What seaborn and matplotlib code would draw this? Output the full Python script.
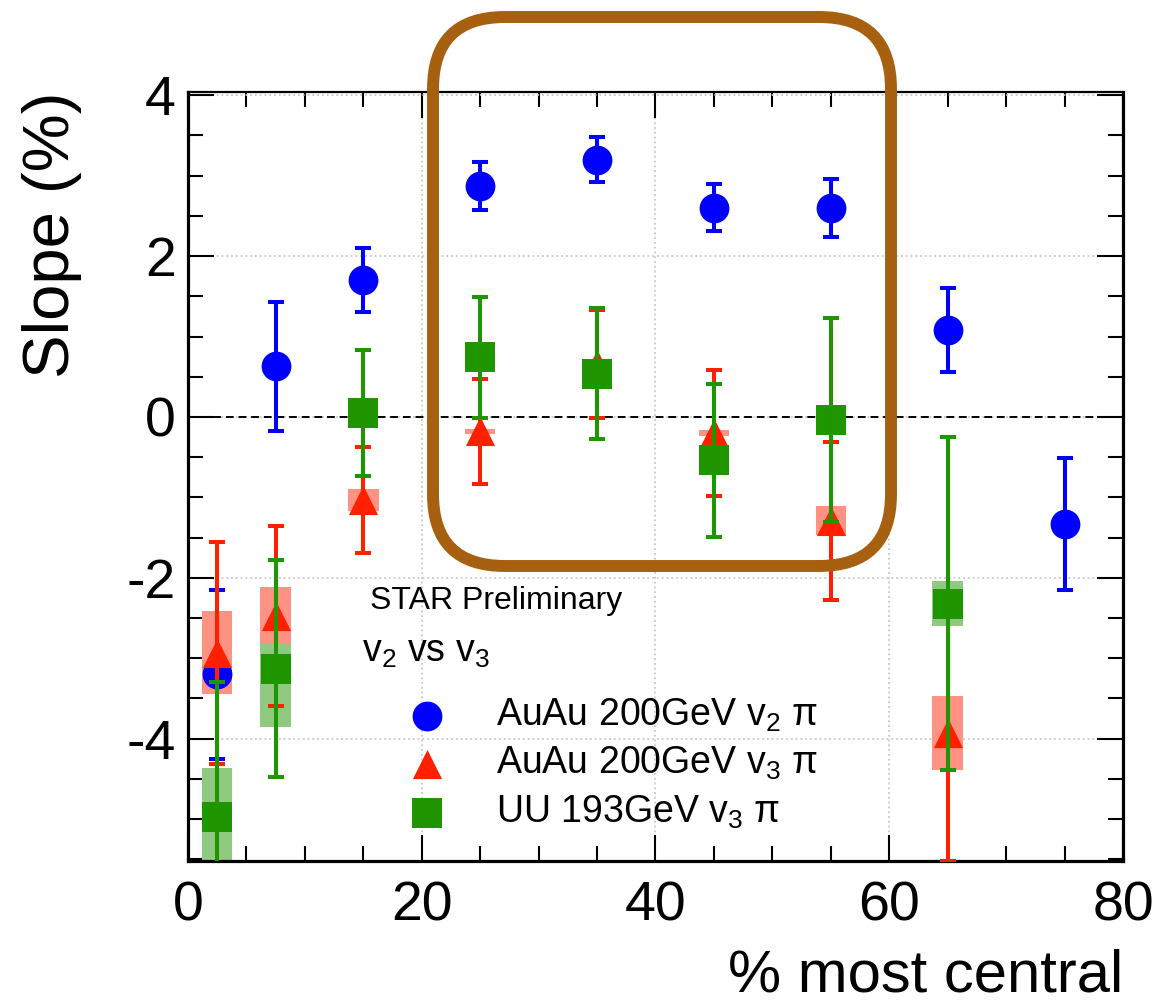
import matplotlib
matplotlib.use("Agg")
import matplotlib.pyplot as plt
import numpy as np
import pandas as pd
import seaborn as sns
from matplotlib.patches import FancyBboxPatch
from matplotlib.ticker import MultipleLocator

# Centrality bins (% most central) and fitted slopes (%), with stat. and sys. errors
cent_v2 = [2.5, 7.5, 15, 25, 35, 45, 55, 65, 75]
slope_v2 = [-3.20, 0.63, 1.70, 2.87, 3.20, 2.60, 2.60, 1.08, -1.33]
stat_v2 = [1.05, 0.80, 0.40, 0.30, 0.28, 0.29, 0.36, 0.52, 0.82]

cent_v3 = [2.5, 7.5, 15, 25, 35, 45, 55, 65]
slope_v3 = [-2.93, -2.47, -1.03, -0.18, 0.66, -0.20, -1.29, -3.93]
stat_v3 = [1.38, 1.12, 0.66, 0.65, 0.67, 0.78, 0.98, 1.59]
sys_v3 = [0.52, 0.35, 0.14, 0.03, 0.05, 0.04, 0.18, 0.46]

cent_uu = [2.5, 7.5, 15, 25, 35, 45, 55, 65]
slope_uu = [-4.97, -3.13, 0.05, 0.74, 0.54, -0.54, -0.04, -2.32]
stat_uu = [1.67, 1.35, 0.78, 0.75, 0.81, 0.95, 1.27, 2.07]
sys_uu = [0.60, 0.73, 0.0, 0.0, 0.0, 0.0, 0.0, 0.28]

labels = [r"AuAu 200GeV v$_2$ π", r"AuAu 200GeV v$_3$ π", r"UU 193GeV v$_3$ π"]
x_ticks = [0, 20, 40, 60, 80]
y_ticks = [-4, -2, 0, 2, 4]

sns.set_theme(style="ticks")
plt.rcParams["font.family"] = ["Liberation Sans", "DejaVu Sans"]
plt.rcParams["mathtext.fontset"] = "custom"
plt.rcParams["mathtext.rm"] = "Liberation Sans"
plt.rcParams["mathtext.it"] = "Liberation Sans:italic"
plt.rcParams["axes.unicode_minus"] = False
for key in ["text.color", "axes.labelcolor", "xtick.color", "ytick.color",
            "axes.edgecolor"]:
    plt.rcParams[key] = "black"

fig = plt.figure(figsize=(11.57, 10.05), dpi=100)
ax = fig.add_axes([0.1625, 0.1433, 0.8081, 0.7652])

series = [
    dict(x=cent_v2, y=slope_v2, stat=stat_v2, sys=None, color="#0000ff",
         box="#8080ff", marker="o", s=460),
    dict(x=cent_v3, y=slope_v3, stat=stat_v3, sys=sys_v3, color="#ff2000",
         box="#ff9282", marker="^", s=440),
    dict(x=cent_uu, y=slope_uu, stat=stat_uu, sys=sys_uu, color="#1f9600",
         box="#90ca80", marker="s", s=480),
]
# systematic boxes sit beneath all points; AuAu v3 boxes above UU boxes
box_z = [2.6, 2.6, 2.5]

handles = []
for i, (spec, lab) in enumerate(zip(series, labels)):
    z = 3 + i
    df = pd.DataFrame({"centrality": spec["x"], "slope": spec["y"], "stat": spec["stat"]})
    if spec["sys"] is not None:
        df["sys"] = spec["sys"]
        boxes = df[df["sys"] > 0]
        ax.bar(boxes["centrality"], 2 * boxes["sys"], bottom=boxes["slope"] - boxes["sys"],
               width=2.6, color=spec["box"], linewidth=0, zorder=box_z[i])
    ax.errorbar(df["centrality"], df["slope"], yerr=df["stat"], fmt="none",
                ecolor=spec["color"], elinewidth=2.9, capsize=5.8, capthick=2.9,
                zorder=z + 0.1)
    sns.scatterplot(data=df, x="centrality", y="slope", ax=ax, color=spec["color"],
                    marker=spec["marker"], s=spec["s"], linewidth=0, zorder=z + 0.2,
                    legend=False)
    handles.append(ax.collections[-1])

# reference line at zero slope
ax.axhline(0, color="black", linestyle=(0, (4, 2.5)), linewidth=1.4, zorder=2.7)

ax.set_xlim(0, 80)
ax.set_ylim(-5.52, 4.04)
ax.xaxis.set_major_locator(plt.FixedLocator(x_ticks))
ax.yaxis.set_major_locator(plt.FixedLocator(y_ticks))
ax.xaxis.set_minor_locator(MultipleLocator(5))
ax.yaxis.set_minor_locator(MultipleLocator(0.5))
ax.grid(True, which="major", color="#c8c8c8", linestyle=":", linewidth=1.3)
ax.set_axisbelow(True)

ax.tick_params(which="both", direction="in", top=True, right=True, width=1.5)
ax.tick_params(which="major", length=19, labelsize=40)
ax.tick_params(which="minor", length=11)
ax.tick_params(axis="x", which="major", pad=14)
ax.tick_params(axis="y", which="major", pad=9)
for side in ["left", "bottom", "right"]:
    ax.spines[side].set_linewidth(2.3)
ax.spines["top"].set_linewidth(1.6)

ax.set_xlabel("% most central", fontsize=43, loc="right")
ax.set_ylabel("Slope (%)", fontsize=47, loc="top")
ax.xaxis.label.set_verticalalignment("baseline")
ax.xaxis.set_label_coords(1.0, -0.1703)
ax.yaxis.set_label_coords(-0.113, 1.0)

ax.text(0.1947, 0.3277, "STAR Preliminary", transform=ax.transAxes, fontsize=23,
        va="baseline", ha="left")
ax.text(0.186, 0.2588, r"v$_2$ vs v$_3$", transform=ax.transAxes, fontsize=27,
        va="baseline", ha="left")

ax.legend(handles, labels, loc="upper left", bbox_to_anchor=(0.236, 0.214),
          frameon=False, fontsize=27, handlelength=1.0, handletextpad=1.34,
          labelspacing=0.3, borderpad=0, borderaxespad=0, scatterpoints=1)

# highlighted centrality window
frame = FancyBboxPatch((4.33, 4.39), 4.58, 5.49,
                       boxstyle="round,pad=0,rounding_size=0.72",
                       transform=fig.dpi_scale_trans, fill=False,
                       edgecolor="#a6600f", linewidth=8.6, zorder=10)
fig.add_artist(frame)

fig.savefig("out.png", dpi=100)
